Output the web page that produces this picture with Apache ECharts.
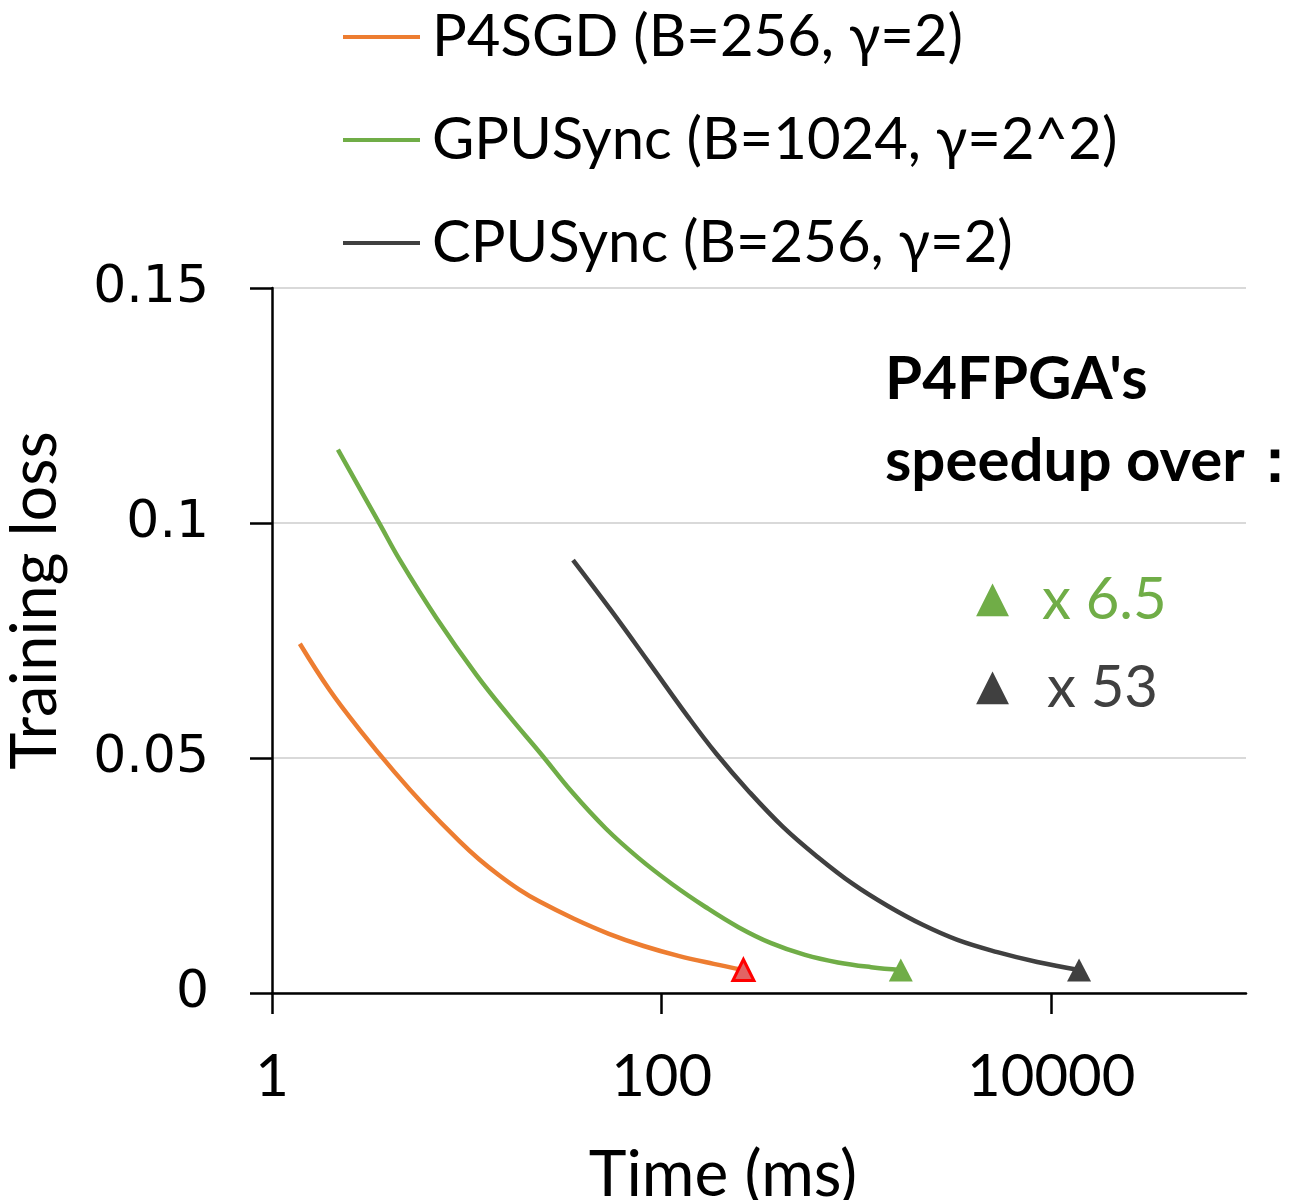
<!DOCTYPE html>
<html lang="en">
<head>
  <meta charset="UTF-8">
  <title>Training loss vs time</title>
  <style>
    html, body { margin: 0; padding: 0; background: #fff; }
    #chart { width: 1309px; height: 1200px; }
  </style>
</head>
<body>
  <div id="chart"></div>

  <script src="https://cdn.jsdelivr.net/npm/echarts@6.0.0/dist/echarts.min.js"></script>
  <script>
    // values (time in ms, log x axis)
    const seriesNames = ['P4SGD (B=256, γ=2)', 'GPUSync (B=1024, γ=2^2)', 'CPUSync (B=256, γ=2)'];

    const p4sgdTime = [1.39, 1.98, 2.82, 4.26, 6.06, 9.16, 11.6, 14.7, 18.6, 23.5, 35.5, 53.6, 80.9, 122, 185, 263];
    const p4sgdLoss = [0.0743, 0.0644, 0.0560, 0.0470, 0.0399, 0.0323, 0.0284, 0.0250, 0.0220, 0.0195, 0.0158, 0.0126, 0.0100, 0.0079, 0.0062, 0.0049];

    const gpuTime = [2.18, 3.57, 4.52, 6.98, 11.2, 16.5, 24.1, 34.6, 51.7, 76.3, 113, 168, 248, 365, 545, 804, 1190, 1690];
    const gpuLoss = [0.1156, 0.0998, 0.0922, 0.0798, 0.0677, 0.0589, 0.0508, 0.0428, 0.0350, 0.0287, 0.0232, 0.0183, 0.0140, 0.0106, 0.0081, 0.0065, 0.0055, 0.0049];

    const cpuTime = [35.1, 54.8, 85.8, 137, 191, 279, 421, 635, 959, 1450, 2190, 3300, 5290, 8480, 13900];
    const cpuLoss = [0.0921, 0.0815, 0.0704, 0.0587, 0.0509, 0.0430, 0.0353, 0.0289, 0.0232, 0.0185, 0.0145, 0.0113, 0.0087, 0.0066, 0.0049];

    const xTickValues = [1, 100, 10000];
    const speedupLabels = ['x 6.5', 'x 53'];

    const ORANGE = '#ED7D31';
    const GREEN = '#70AD47';
    const DARK = '#404040';
    const LABEL_FONT = 'Lato';

    // zip time/loss, the last point carries the triangle marker
    function buildData(times, losses, endSize, endStyle) {
      return times.map((t, i) => {
        if (i === times.length - 1) {
          return { value: [t, losses[i]], symbol: 'triangle', symbolSize: endSize, itemStyle: endStyle };
        }
        return [t, losses[i]];
      });
    }

    function lineSeries(name, color, data) {
      return {
        name: name,
        type: 'line',
        smooth: 0.4,
        symbol: 'none',
        lineStyle: { color: color, width: 4.5 },
        itemStyle: { color: color },
        emphasis: { disabled: true },
        data: data
      };
    }

    const chart = echarts.init(document.getElementById('chart'));

    const option = {
      animation: false,
      backgroundColor: '#fff',
      legend: {
        orient: 'vertical',
        left: 338,
        top: 3,
        icon: 'rect',
        itemWidth: 77,
        itemHeight: 4,
        itemGap: 45,
        selectedMode: false,
        textStyle: {
          fontFamily: LABEL_FONT,
          fontSize: 58,
          lineHeight: 56,
          color: '#000',
          padding: [0, 0, 0, 7]
        },
        data: seriesNames
      },
      grid: {
        left: 272,
        right: 63,
        top: 288,
        bottom: 207,
        containLabel: false,
        outerBoundsMode: 'none'
      },
      xAxis: {
        type: 'log',
        logBase: 10,
        min: 1,
        max: 100000,
        name: 'Time (ms)',
        nameLocation: 'middle',
        nameGap: 150,
        nameTextStyle: { fontFamily: LABEL_FONT, fontSize: 64, color: '#000', padding: [0, 72, 0, 0] },
        axisLine: { show: true, lineStyle: { color: '#000', width: 2.5 } },
        axisTick: {
          show: true,
          length: 21,
          customValues: xTickValues,
          lineStyle: { color: '#000', width: 2.5 }
        },
        axisLabel: {
          customValues: xTickValues,
          formatter: v => String(v),
          fontFamily: LABEL_FONT,
          fontSize: 58,
          color: '#000',
          margin: 55
        },
        splitLine: { show: false },
        minorTick: { show: false }
      },
      yAxis: {
        type: 'value',
        min: 0,
        max: 0.15,
        interval: 0.05,
        name: 'Training loss',
        nameLocation: 'middle',
        nameGap: 205,
        nameTextStyle: { fontFamily: LABEL_FONT, fontSize: 63, color: '#000', padding: [0, 0, 0, 80] },
        axisLine: { show: true, lineStyle: { color: '#000', width: 2.5 } },
        axisTick: { show: true, length: 22, lineStyle: { color: '#000', width: 2.5 } },
        axisLabel: {
          fontFamily: 'DejaVu Sans',
          fontSize: 52,
          color: '#000',
          margin: 63
        },
        splitLine: { show: true, lineStyle: { color: '#D9D9D9', width: 2 } }
      },
      graphic: [
        { type: 'text', x: 885, y: 380, style: { text: "P4FPGA's", font: 'bold 60px Lato', fill: '#000', verticalAlign: 'middle' } },
        { type: 'text', x: 885, y: 462, style: { text: 'speedup over：', font: 'bold 60px Lato', fill: '#000', verticalAlign: 'middle' } },
        { type: 'text', x: 976, y: 600, style: { text: '▲', font: '43px "DejaVu Sans"', fill: GREEN, verticalAlign: 'middle' } },
        { type: 'text', x: 1042, y: 600, style: { text: speedupLabels[0], font: '58px Lato', fill: GREEN, verticalAlign: 'middle' } },
        { type: 'text', x: 976, y: 688, style: { text: '▲', font: '43px "DejaVu Sans"', fill: DARK, verticalAlign: 'middle' } },
        { type: 'text', x: 1047, y: 688, style: { text: speedupLabels[1], font: '58px Lato', fill: DARK, verticalAlign: 'middle' } }
      ],
      series: [
        lineSeries(seriesNames[0], ORANGE,
          buildData(p4sgdTime, p4sgdLoss, [21, 21], { color: '#E26464', borderColor: '#FF0000', borderWidth: 3 })),
        lineSeries(seriesNames[1], GREEN,
          buildData(gpuTime, gpuLoss, [24, 23], { color: GREEN })),
        lineSeries(seriesNames[2], DARK,
          buildData(cpuTime, cpuLoss, [24, 23], { color: DARK }))
      ]
    };

    chart.setOption(option);
  </script>
</body>
</html>
